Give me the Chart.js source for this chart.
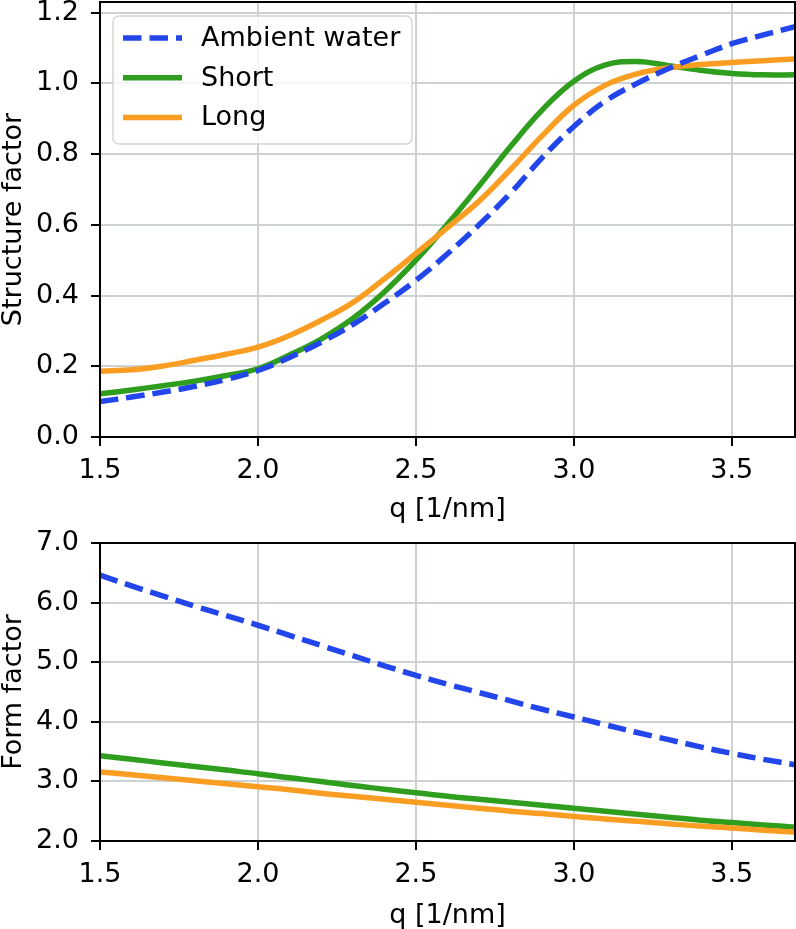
<!DOCTYPE html>
<html>
<head>
<meta charset="utf-8">
<script src="https://cdn.jsdelivr.net/npm/chart.js@4.4.0/dist/chart.umd.min.js"></script>
<style>
    html, body { margin: 0; padding: 0; background: #fff; }
    #wrap { position: relative; width: 796px; height: 929px; }
    canvas { position: absolute; left: 0; }
</style>
</head>
<body>
<div id="wrap">
    <canvas id="structure-graph" width="796" height="523" style="top:0px"></canvas>
    <canvas id="form-graph" width="796" height="406" style="top:523px"></canvas>
</div>
<script>
// q values shared by both panels [1/nm]
var qValues = [1.5, 1.6, 1.7, 1.8, 1.9, 2.0, 2.1, 2.2, 2.3, 2.4, 2.5, 2.6,
               2.7, 2.8, 2.9, 3.0, 3.1, 3.2, 3.3, 3.4, 3.5, 3.6, 3.7];

// structure factor (top panel)
var structAmbient = [0.100, 0.113, 0.127, 0.143, 0.163, 0.188, 0.225, 0.268, 0.318, 0.378, 0.443, 0.518,
                     0.600, 0.690, 0.790, 0.878, 0.950, 1.000, 1.042, 1.078, 1.112, 1.137, 1.160];
var structShort   = [0.122, 0.133, 0.145, 0.158, 0.174, 0.193, 0.232, 0.277, 0.335, 0.410, 0.500, 0.602,
                     0.710, 0.822, 0.925, 1.006, 1.052, 1.062, 1.050, 1.037, 1.028, 1.024, 1.024];
var structLong    = [0.186, 0.190, 0.201, 0.217, 0.234, 0.254, 0.287, 0.330, 0.380, 0.447, 0.519, 0.592,
                     0.667, 0.757, 0.852, 0.938, 0.995, 1.027, 1.044, 1.053, 1.059, 1.064, 1.069];

// form factor (bottom panel)
var formAmbient = [6.46, 6.28, 6.11, 5.94, 5.78, 5.62, 5.45, 5.28, 5.11, 4.94, 4.78, 4.63,
                   4.49, 4.35, 4.21, 4.08, 3.95, 3.82, 3.70, 3.58, 3.47, 3.37, 3.28];
var formShort   = [3.43, 3.37, 3.31, 3.25, 3.19, 3.13, 3.06, 3.00, 2.93, 2.87, 2.81, 2.75,
                   2.70, 2.65, 2.60, 2.55, 2.50, 2.45, 2.40, 2.35, 2.31, 2.27, 2.23];
var formLong    = [3.16, 3.11, 3.06, 3.01, 2.96, 2.91, 2.86, 2.80, 2.75, 2.70, 2.65, 2.60,
                   2.55, 2.50, 2.46, 2.41, 2.37, 2.33, 2.29, 2.25, 2.22, 2.18, 2.15];

var seriesLabels = ['Ambient water', 'Short', 'Long'];

// tick labels
var qTicks = [1.5, 2.0, 2.5, 3.0, 3.5];
var structTicks = [0.0, 0.2, 0.4, 0.6, 0.8, 1.0, 1.2];
var formTicks = [2.0, 3.0, 4.0, 5.0, 6.0, 7.0];

var FONT = 'DejaVu Sans';
var gridColor = '#ccd2d2';
var colors = ['#2346eb', '#2f9e1f', '#fa9e23'];

function toPoints(ys){
    var pts = [];
    for(let i=0;i<qValues.length;i++){
        pts.push({x: qValues[i], y: ys[i]});
    }
    return pts;
}

function makeDatasets(series){
    var sets = [];
    for(let i=0;i<series.length;i++){
        sets.push({
            label: seriesLabels[i],
            data: toPoints(series[i]),
            borderColor: colors[i],
            backgroundColor: colors[i],
            borderWidth: 5.5,
            borderDash: i === 0 ? [18.5, 8] : [],
            borderCapStyle: 'butt',
            pointRadius: 0,
            fill: false,
            tension: 0.4,
            order: i === 0 ? 0 : 3 - i
        });
    }
    return sets;
}

// black frame around the plot area (all four spines)
var framePlugin = {
    id: 'frame',
    afterDatasetsDraw: function(chart){
        var a = chart.chartArea, ctx = chart.ctx;
        ctx.save();
        ctx.strokeStyle = '#000';
        ctx.lineWidth = 2;
        ctx.strokeRect(a.left, a.top, a.right - a.left, a.bottom - a.top);
        ctx.restore();
    }
};

// matplotlib style legend box in the upper left corner
var boxLegendPlugin = {
    id: 'boxLegend',
    afterDraw: function(chart){
        var a = chart.chartArea, ctx = chart.ctx;
        var x0 = a.left + 13, y0 = a.top + 14, w = 299, h = 128, r = 6;
        ctx.save();
        ctx.beginPath();
        ctx.moveTo(x0 + r, y0);
        ctx.arcTo(x0 + w, y0, x0 + w, y0 + h, r);
        ctx.arcTo(x0 + w, y0 + h, x0, y0 + h, r);
        ctx.arcTo(x0, y0 + h, x0, y0, r);
        ctx.arcTo(x0, y0, x0 + w, y0, r);
        ctx.closePath();
        ctx.fillStyle = 'rgba(255,255,255,0.8)';
        ctx.fill();
        ctx.strokeStyle = '#d6d6d6';
        ctx.lineWidth = 1.5;
        ctx.stroke();

        ctx.font = '27px "' + FONT + '"';
        ctx.textBaseline = 'middle';
        ctx.fillStyle = '#000';
        chart.data.datasets.forEach(function(ds, i){
            var y = y0 + 22 + i * 39.7;
            ctx.beginPath();
            ctx.setLineDash(ds.borderDash);
            ctx.lineCap = 'butt';
            ctx.strokeStyle = ds.borderColor;
            ctx.lineWidth = ds.borderWidth;
            ctx.moveTo(x0 + 10, y);
            ctx.lineTo(x0 + 69, y);
            ctx.stroke();
            ctx.setLineDash([]);
            ctx.fillText(ds.label, x0 + 88, y + 1);
        });
        ctx.restore();
    }
};

function axisOptions(ticksList, min, max, title, horizontal, fitSize){
    return {
        type: 'linear',
        min: min,
        max: max,
        afterBuildTicks: function(scale){
            scale.ticks = ticksList.map(function(v){ return {value: v}; });
        },
        afterFit: function(scale){
            if(horizontal){
                scale.height = fitSize;
                scale.paddingLeft = 0;
                scale.paddingRight = 0;
            } else {
                scale.width = fitSize;
                scale.paddingTop = 0;
                scale.paddingBottom = 0;
            }
        },
        grid: {
            color: gridColor,
            lineWidth: 2,
            tickLength: 9,
            tickColor: '#000',
            tickWidth: 2
        },
        border: { color: '#000', width: 2 },
        ticks: {
            color: '#000',
            font: { family: FONT, size: 27 },
            padding: horizontal ? 9 : 12,
            maxRotation: 0,
            autoSkip: false,
            callback: function(v){ return Number(v).toFixed(1); }
        },
        title: {
            display: true,
            text: title,
            color: '#000',
            font: { family: FONT, size: 27, lineHeight: 1 },
            padding: 0
        }
    };
}

function renderCharts(){
    new Chart(document.getElementById('structure-graph').getContext('2d'), {
        type: 'line',
        data: { datasets: makeDatasets([structAmbient, structShort, structLong]) },
        options: {
            responsive: false,
            animation: false,
            devicePixelRatio: 1,
            layout: { padding: { top: 2, right: 1, left: 0, bottom: 0 } },
            plugins: { legend: { display: false }, tooltip: { enabled: false } },
            scales: {
                x: axisOptions(qTicks, 1.5, 3.7, 'q [1/nm]', true, 86),
                y: axisOptions(structTicks, 0, 1.23, 'Structure factor', false, 100)
            }
        },
        plugins: [framePlugin, boxLegendPlugin]
    });

    new Chart(document.getElementById('form-graph').getContext('2d'), {
        type: 'line',
        data: { datasets: makeDatasets([formAmbient, formShort, formLong]) },
        options: {
            responsive: false,
            animation: false,
            devicePixelRatio: 1,
            layout: { padding: { top: 20, right: 1, left: 0, bottom: 0 } },
            plugins: { legend: { display: false }, tooltip: { enabled: false } },
            scales: {
                x: axisOptions(qTicks, 1.5, 3.7, 'q [1/nm]', true, 88),
                y: axisOptions(formTicks, 2, 7, 'Form factor', false, 100)
            }
        },
        plugins: [framePlugin]
    });
}

renderCharts();
</script>
</body>
</html>
